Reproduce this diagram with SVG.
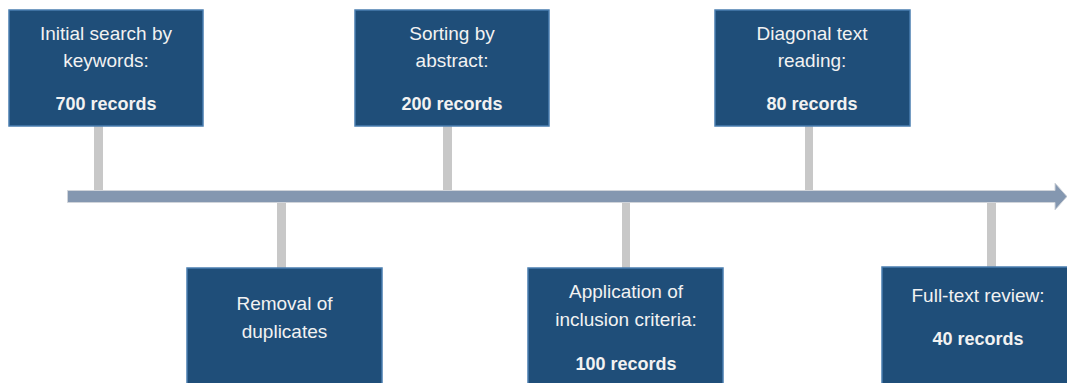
<svg xmlns="http://www.w3.org/2000/svg" width="1067" height="383" viewBox="0 0 1067 383">
<style>
.box{fill:#1F4E79;stroke:#4A7EB0;stroke-width:1.5}
.stem{fill:#C8C8C8}
.t{font-family:"Liberation Sans",Arial,sans-serif;font-size:19px;fill:#F2F2F2;text-anchor:middle}
.b{font-weight:bold;font-size:18px}
</style>
<rect width="1067" height="383" fill="#FFFFFF"/>
<g id="connectors">
<rect class="stem" x="94" y="126" width="9" height="64"/>
<rect class="stem" x="443" y="126" width="9" height="64"/>
<rect class="stem" x="805" y="126" width="8" height="64"/>
<rect class="stem" x="277" y="203" width="9" height="65"/>
<rect class="stem" x="622" y="203" width="8" height="65"/>
<rect class="stem" x="987" y="203" width="9" height="64"/>
<path d="M67.5,190.5 H1055 V183 L1067,196.5 L1055,210 V202.5 H67.5 Z" fill="#8497B0" stroke="#D0D4DA" stroke-width="1"/>
</g>
<g id="n1">
<rect class="box" x="9" y="10" width="194" height="116"/>
<text class="t" x="106" y="40">Initial search by</text>
<text class="t" x="106" y="67">keywords:</text>
<text class="t b" x="106" y="110">700 records</text>
</g>
<g id="n2">
<rect class="box" x="187" y="268" width="195" height="125"/>
<text class="t" x="284.5" y="310">Removal of</text>
<text class="t" x="284.5" y="338">duplicates</text>
</g>
<g id="n3">
<rect class="box" x="355" y="10" width="194" height="116"/>
<text class="t" x="452" y="40">Sorting by</text>
<text class="t" x="452" y="67">abstract:</text>
<text class="t b" x="452" y="110">200 records</text>
</g>
<g id="n4">
<rect class="box" x="528" y="268" width="195" height="125"/>
<text class="t" x="626" y="298">Application of</text>
<text class="t" x="626" y="326">inclusion criteria:</text>
<text class="t b" x="626" y="370">100 records</text>
</g>
<g id="n5">
<rect class="box" x="715" y="10" width="195" height="116"/>
<text class="t" x="812" y="40">Diagonal text</text>
<text class="t" x="812" y="67">reading:</text>
<text class="t b" x="812" y="110">80 records</text>
</g>
<g id="n6">
<rect class="box" x="882" y="267" width="196" height="126"/>
<text class="t" x="978" y="302">Full-text review:</text>
<text class="t b" x="978" y="345">40 records</text>
</g>
</svg>
